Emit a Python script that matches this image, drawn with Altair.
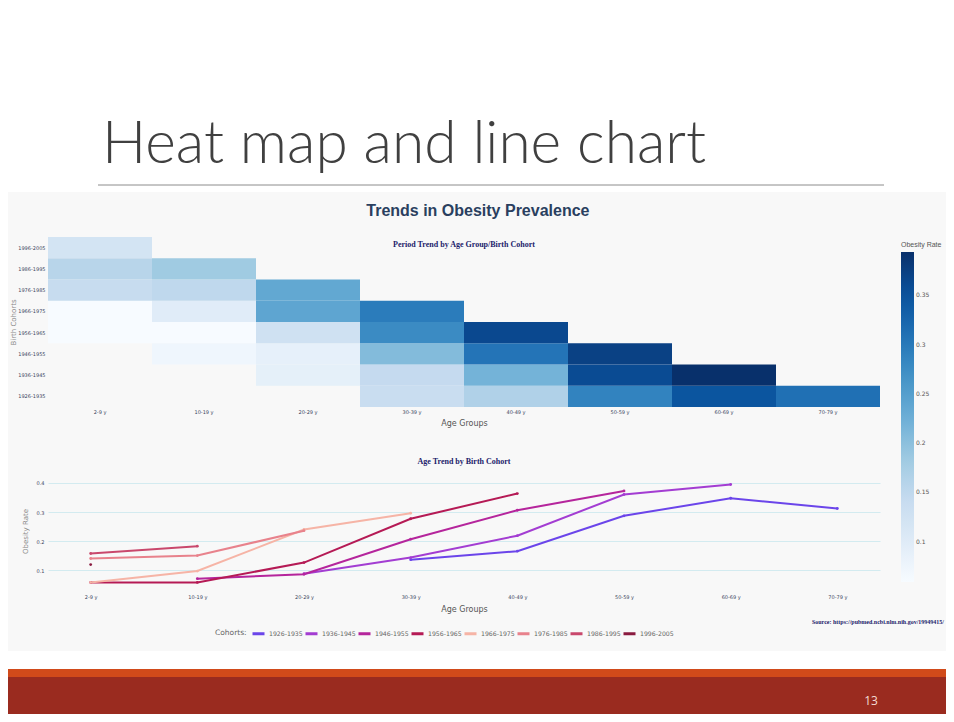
import altair as alt
import pandas as pd
import numpy as np

slide_title = "Heat map and line chart"
panel_title = "Trends in Obesity Prevalence"
heat_title = "Period Trend by Age Group/Birth Cohort"
line_title = "Age Trend by Birth Cohort"
source_note = "Source: https://pubmed.ncbi.nlm.nih.gov/19949415/"
page_number = "13"

age_groups = ["2-9 y", "10-19 y", "20-29 y", "30-39 y", "40-49 y", "50-59 y", "60-69 y", "70-79 y"]
cohorts = ["1926-1935", "1936-1945", "1946-1955", "1956-1965",
           "1966-1975", "1976-1985", "1986-1995", "1996-2005"]

# obesity rate per cohort, by age group (None = not observed)
r_1926 = [None, None, None, 0.137, 0.166, 0.287, 0.347, 0.312]
r_1936 = [None, None, 0.089, 0.144, 0.219, 0.360, 0.394, None]
r_1946 = [None, 0.072, 0.087, 0.207, 0.306, 0.372, None, None]
r_1956 = [0.059, 0.059, 0.127, 0.277, 0.363, None, None, None]
r_1966 = [0.059, 0.098, 0.240, 0.296, None, None, None, None]
r_1976 = [0.141, 0.151, 0.236, None, None, None, None, None]
r_1986 = [0.158, 0.183, None, None, None, None, None, None]
r_1996 = [0.120, None, None, None, None, None, None, None]
series = [r_1926, r_1936, r_1946, r_1956, r_1966, r_1976, r_1986, r_1996]

cohort_colors = ["#6b45ea", "#a33dd2", "#b5259c", "#b51a55",
                 "#f6b4a6", "#e8828c", "#c9486c", "#8a1b40"]
blues = ["#f7fbff", "#deebf7", "#c6dbef", "#9ecae1", "#6baed6",
         "#4292c6", "#2171b5", "#08519c", "#08306b"]
rate_ticks = [0.1, 0.15, 0.2, 0.25, 0.3, 0.35]
line_ticks = [0.1, 0.2, 0.3, 0.4]

rows = []
for c, vals in zip(cohorts, series):
    for a, v in zip(age_groups, vals):
        if v is not None:
            rows.append({"cohort": c, "age": a, "rate": v})
df = pd.DataFrame(rows)

vmin, vmax = float(df["rate"].min()), float(df["rate"].max())
stops = [float(s) for s in np.linspace(vmin, vmax, len(blues))]

TICK_FONT = "DejaVu Sans"
LABEL_COLOR = "#3b4560"
GREY = "#555555"
PW = 832
LEFT = 40          # room taken by the heat map's y axis
W = 938 - LEFT     # header/footer view width

heat = alt.Chart(df).mark_rect().encode(
    x=alt.X("age:N", scale=alt.Scale(domain=age_groups, paddingInner=0, paddingOuter=0),
            axis=alt.Axis(title="Age Groups", labelFontSize=5, labelFont=TICK_FONT,
                          labelColor=LABEL_COLOR, labelAngle=0, ticks=False, domain=False,
                          labelPadding=2, titleFontSize=8, titleFont=TICK_FONT,
                          titleFontWeight="normal", titleColor=GREY, titlePadding=5)),
    y=alt.Y("cohort:N", scale=alt.Scale(domain=cohorts[::-1], paddingInner=0, paddingOuter=0),
            axis=alt.Axis(title="Birth Cohorts", labelFontSize=5, labelFont=TICK_FONT,
                          labelColor=LABEL_COLOR, ticks=False, domain=False, labelPadding=3,
                          titleFontSize=7, titleFont=TICK_FONT, titleFontWeight="normal",
                          titleColor="#888888", titlePadding=1)),
    color=alt.Color("rate:Q", scale=alt.Scale(domain=stops, range=blues),
                    legend=alt.Legend(title="Obesity Rate", orient="right", offset=17, padding=4,
                                      gradientLength=330, gradientThickness=13,
                                      gradientStrokeWidth=0, values=rate_ticks, format=".2~f",
                                      titleFontSize=7, titleFont="Liberation Sans",
                                      titleFontWeight="normal", titleColor=GREY, titlePadding=4,
                                      labelFontSize=6, labelFont=TICK_FONT, labelColor=GREY)),
).properties(
    width=PW, height=170,
    title=alt.TitleParams(heat_title, font="Liberation Serif", fontWeight="bold", fontSize=8,
                          color="#1c1c6b", offset=-12, anchor="middle"),
)

lines = alt.Chart(df).mark_line(strokeWidth=2, point=alt.OverlayMarkDef(size=8, filled=True)).encode(
    x=alt.X("age:N", scale=alt.Scale(domain=age_groups, type="point", padding=0.4),
            axis=alt.Axis(title="Age Groups", labelFontSize=5, labelFont=TICK_FONT,
                          labelColor=LABEL_COLOR, labelAngle=0, ticks=False, domain=False,
                          labelPadding=6, titleFontSize=8, titleFont=TICK_FONT,
                          titleFontWeight="normal", titleColor=GREY, titlePadding=6)),
    y=alt.Y("rate:Q", scale=alt.Scale(domain=[0.04, 0.43], nice=False, zero=False),
            axis=alt.Axis(title="Obesity Rate", values=line_ticks, format=".1f",
                          labelFontSize=5, labelFont=TICK_FONT, labelColor=LABEL_COLOR,
                          ticks=False, domain=False, labelPadding=4, gridColor="#d3ebf0",
                          titleFontSize=7, titleFont=TICK_FONT, titleFontWeight="normal",
                          titleColor="#888888", titlePadding=8)),
    color=alt.Color("cohort:N", scale=alt.Scale(domain=cohorts, range=cohort_colors),
                    legend=alt.Legend(title="Cohorts:", orient="none", legendX=167, legendY=152,
                                      direction="horizontal", columns=8, titleOrient="left",
                                      titleFontSize=7.5, titleFont=TICK_FONT,
                                      titleFontWeight="normal", titleColor="#666666",
                                      titlePadding=4, symbolType="stroke", symbolStrokeWidth=3,
                                      symbolSize=144, labelFontSize=6.2, labelFont=TICK_FONT,
                                      labelColor="#666666", columnPadding=-4, labelOffset=3)),
    detail="cohort:N",
)

src = alt.Chart(pd.DataFrame({"t": [source_note]})).mark_text(
    font="Liberation Serif", fontWeight="bold", fontSize=6, color="#1c1c6b", align="right",
    baseline="middle",
).encode(text="t:N", x=alt.value(896), y=alt.value(148))

line_chart = alt.layer(lines, src).properties(
    width=PW, height=114,
    title=alt.TitleParams(line_title, font="Liberation Serif", fontWeight="bold", fontSize=8,
                          color="#1c1c6b", offset=8, anchor="middle"),
)

panel = alt.vconcat(heat, line_chart, spacing=67, bounds="flush").resolve_scale(
    color="independent", x="independent", y="independent"
).properties(
    title=alt.TitleParams(panel_title, font="Liberation Sans", fontWeight="bold", fontSize=16,
                          color="#2a3f5f", anchor="middle", offset=18),
)

HH = 165  # header view height
dummy = pd.DataFrame({"t": [slide_title]})
head_bg = alt.Chart(dummy).mark_rect(color="white").encode(
    x=alt.value(-LEFT), x2=alt.value(W), y=alt.value(-19), y2=alt.value(HH))
head_text = alt.Chart(dummy).mark_text(
    font="Lato", fontWeight=300, fontSize=58.6, color="#404040", align="left",
    baseline="alphabetic",
).encode(text="t:N", x=alt.value(54), y=alt.value(136))
head_rule = alt.Chart(dummy).mark_rule(color="#8c8c8c", strokeWidth=1).encode(
    x=alt.value(50), x2=alt.value(836), y=alt.value(158))
header = alt.layer(head_bg, head_rule, head_text).properties(width=W, height=HH)

FH = 63  # footer view height
foot_df = pd.DataFrame({"t": [page_number]})
foot_bg = alt.Chart(foot_df).mark_rect(color="white").encode(
    x=alt.value(-LEFT), x2=alt.value(W), y=alt.value(0), y2=alt.value(18))
orange = alt.Chart(foot_df).mark_rect(color="#d14a1a").encode(
    x=alt.value(-LEFT), x2=alt.value(W), y=alt.value(18), y2=alt.value(26))
red = alt.Chart(foot_df).mark_rect(color="#9a2b1f").encode(
    x=alt.value(-LEFT), x2=alt.value(W), y=alt.value(26), y2=alt.value(FH))
num = alt.Chart(foot_df).mark_text(font="Open Sans", fontSize=12, color="#f3dcd4",
                                   align="center", baseline="middle").encode(
    text="t:N", x=alt.value(823), y=alt.value(50))
footer = alt.layer(foot_bg, orange, red, num).properties(width=W, height=FH)

chart = alt.vconcat(header, panel, footer, spacing=11).properties(
    background="#f8f8f8", padding=0,
).configure_view(stroke=None)

chart.save("out.html", embed_options={"renderer": "svg", "actions": False})
